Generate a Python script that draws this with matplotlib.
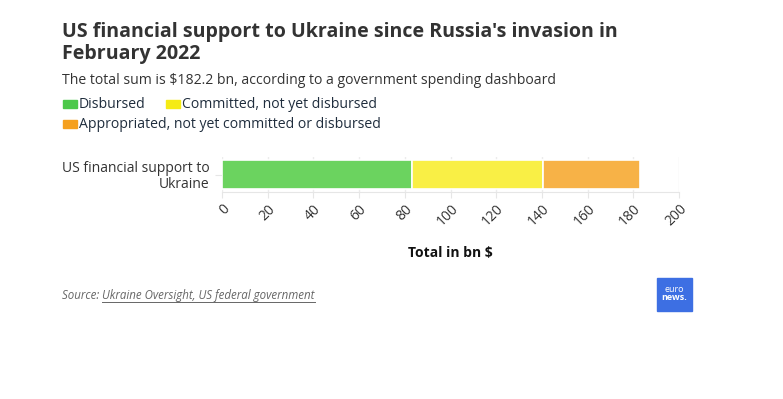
import matplotlib
matplotlib.use("Agg")
import matplotlib.pyplot as plt
from matplotlib.patches import Rectangle

plt.rcParams['font.family'] = ['Open Sans', 'DejaVu Sans']

category = ["US financial support to\nUkraine"]
series_names = ["Disbursed", "Committed, not yet disbursed",
                "Appropriated, not yet committed or disbursed"]
series_values = [83.1, 57.6, 42.3]
bar_colors = ["#6bd35f", "#f9ef45", "#f7b247"]
legend_colors = ["#4cc84a", "#f5eb14", "#f5a01e"]
xticks = [0, 20, 40, 60, 80, 100, 120, 140, 160, 180, 200]

W, H = 783, 399
fig = plt.figure(figsize=(W / 100, H / 100), dpi=100)

ax = fig.add_axes([222 / W, 1 - 192 / H, (679 - 222) / W, (192 - 157) / H])
left = 0
for v, c in zip(series_values, bar_colors):
    ax.barh(0, v, left=left, height=0.82, color=c, edgecolor="white", linewidth=1.2, zorder=3)
    left += v
ax.set_xlim(0, 200)
ax.set_ylim(-0.5, 0.5)
ax.set_xticks(xticks)
ax.set_xticklabels([str(t) for t in xticks], rotation=45, ha="right", va="top",
                   rotation_mode="anchor", fontsize=10, color="#333333")
ax.set_yticks([0])
ax.set_yticklabels(category, fontsize=10, color="#333333", ha="right", linespacing=1.05)
ax.tick_params(axis="x", length=4, color="#e6e6e6", pad=3)
ax.tick_params(axis="y", length=5, color="#e6e6e6", pad=4)
ax.grid(axis="x", color="#ececec", linewidth=1, zorder=0)
for s in ["top", "right", "left"]:
    ax.spines[s].set_visible(False)
ax.spines["bottom"].set_color("#e6e6e6")
ax.set_xlabel("Total in bn $", fontsize=10, fontweight="bold", color="#111111", labelpad=12)

fig.text(62 / W, 1 - 43 / H, "US financial support to Ukraine since Russia's invasion in\nFebruary 2022",
         fontsize=14.1, fontweight="bold", color="#333333", va="center", ha="left", linespacing=1.15)
fig.text(62 / W, 1 - 80 / H, "The total sum is $182.2 bn, according to a government spending dashboard",
         fontsize=10.1, color="#333333", va="center", ha="left")

# legend
leg_items = [(63, 104), (166, 104), (63, 124)]
for (lx, ly), name, c in zip(leg_items, series_names, legend_colors):
    fig.patches.append(Rectangle((lx / W, 1 - (ly + 4) / H), 14 / W, 8 / H,
                                 transform=fig.transFigure, color=c))
    fig.text((lx + 16) / W, 1 - ly / H, name, fontsize=10.1, color="#1f2d3d",
             va="center", ha="left")

# source
t1 = fig.text(62 / W, 1 - 299 / H, "Source: ", fontsize=8.3, style="italic",
              color="#666666", va="baseline", ha="left")
fig.canvas.draw()
bb = t1.get_window_extent()
x2 = bb.x1 / W
t2 = fig.text(x2, 1 - 299 / H, "Ukraine Oversight, US federal government", fontsize=8.3,
              style="italic", color="#666666", va="baseline", ha="left")
fig.canvas.draw()
bb2 = t2.get_window_extent()
fig.add_artist(plt.Line2D([bb2.x0 / W, bb2.x1 / W], [1 - 301.5 / H, 1 - 301.5 / H],
                          transform=fig.transFigure, color="#666666", linewidth=0.7))

# logo
fig.patches.append(Rectangle((657 / W, 1 - 311 / H), 35 / W, 33 / H,
                             transform=fig.transFigure, color="#3d6fe3"))
fig.text(674.5 / W, 1 - 292 / H, "euro", fontsize=6.5, color="white", ha="center", va="baseline")
fig.text(674.5 / W, 1 - 300.5 / H, "news.", fontsize=6.5, color="white", ha="center",
         va="baseline", fontweight="bold")

fig.savefig("out.png", dpi=100)
